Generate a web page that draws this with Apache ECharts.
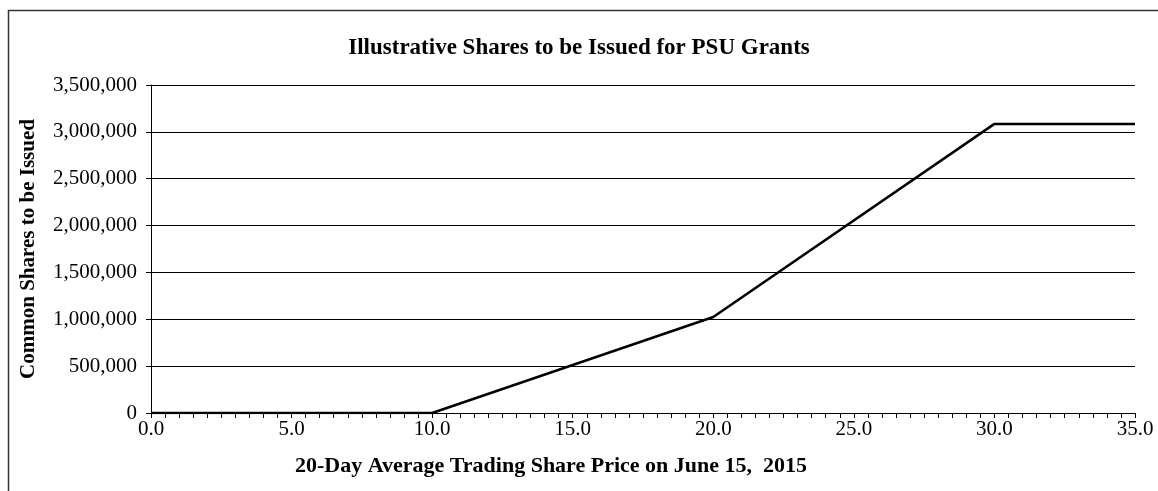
<!DOCTYPE html>
<html lang="en">
<head>
    <meta charset="UTF-8">
    <title>PSU Grants</title>
    <script src="https://cdn.jsdelivr.net/npm/echarts@6/dist/echarts.min.js"></script>
    <style>
        html, body { margin: 0; padding: 0; background: #fff; }
        #chart { width: 1158px; height: 491px; }
    </style>
</head>
<body>
<div id="chart"></div>
<script>
    // share price points (x) and shares issued (y)
    var prices = [0, 10, 20, 30, 35];
    var shares = [0, 0, 1025000, 3085000, 3085000];
    var yTicks = [0, 500000, 1000000, 1500000, 2000000, 2500000, 3000000, 3500000];
    var xTicks = [0, 5, 10, 15, 20, 25, 30, 35];

    var font = 'Liberation Serif';
    var pts = [];
    for (var i = 0; i < prices.length; i++) {
        pts.push([prices[i], shares[i]]);
    }

    var myChart = echarts.init(document.getElementById('chart'));
    myChart.setOption({
        animation: false,
        title: {
            text: 'Illustrative Shares to be Issued for PSU Grants',
            left: 'center',
            top: 32,
            textStyle: { fontFamily: font, fontSize: 23, fontWeight: 'bold', color: '#000' }
        },
        graphic: [
            // frame (only top and left edges are visible)
            {
                type: 'rect',
                shape: { x: 8.5, y: 10.5, width: 1300, height: 600 },
                style: { fill: 'none', stroke: '#333', lineWidth: 1.5 },
                silent: true
            },
            {
                type: 'text',
                left: 295,
                top: 455,
                style: {
                    text: '20-Day Average Trading Share Price on June 15,  2015',
                    font: 'bold 22px "Liberation Serif"',
                    fill: '#000'
                }
            }
        ],
        grid: { left: 151, top: 85, width: 984, height: 328 },
        xAxis: {
            type: 'value',
            min: xTicks[0],
            max: xTicks[xTicks.length - 1],
            interval: 5,
            axisLine: { show: true, lineStyle: { color: '#000', width: 1 } },
            axisTick: { show: true, length: 5, lineStyle: { color: '#000' } },
            minorTick: { show: true, splitNumber: 10, length: 5, lineStyle: { color: '#000' } },
            splitLine: { show: false },
            axisLabel: {
                margin: 6,
                fontFamily: font, fontSize: 21, color: '#000',
                formatter: function (v) { return v.toFixed(1); }
            }
        },
        yAxis: {
            type: 'value',
            min: yTicks[0],
            max: yTicks[yTicks.length - 1],
            interval: 500000,
            name: 'Common Shares to be Issued',
            nameLocation: 'middle',
            nameGap: 112,
            nameTextStyle: { fontFamily: font, fontSize: 21, fontWeight: 'bold', color: '#000' },
            axisLine: { show: true, lineStyle: { color: '#000', width: 1 } },
            axisTick: { show: true, length: 5, lineStyle: { color: '#000' } },
            splitLine: { show: true, lineStyle: { color: '#000', width: 1 } },
            axisLabel: {
                margin: 14,
                fontFamily: font, fontSize: 21, color: '#000',
                formatter: function (v) { return v.toLocaleString('en-US'); }
            }
        },
        series: [{
            type: 'line',
            data: pts,
            symbol: 'none',
            lineStyle: { color: '#000', width: 2.5 }
        }]
    });
</script>
</body>
</html>
